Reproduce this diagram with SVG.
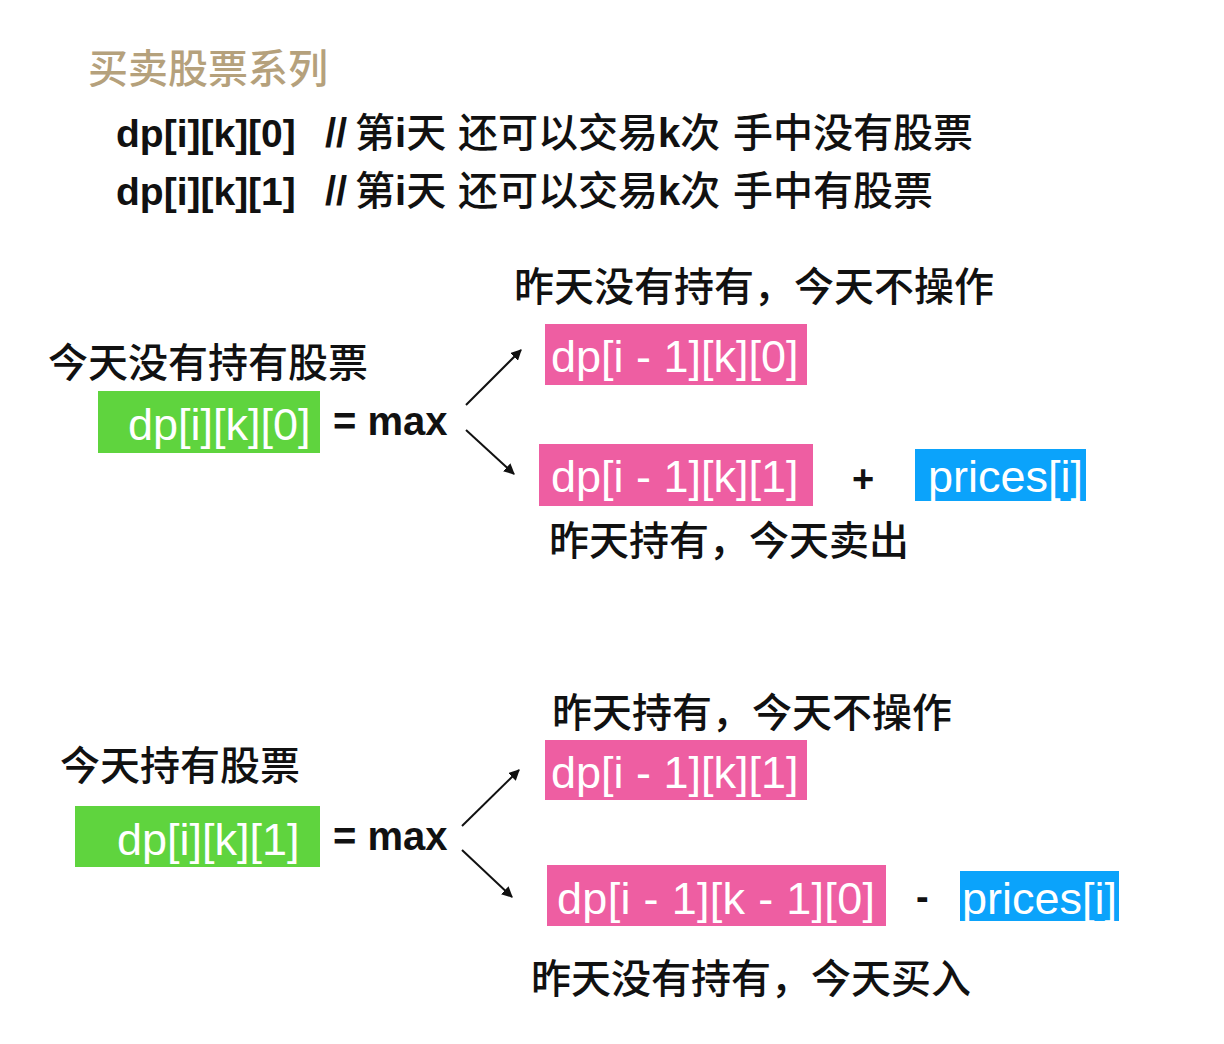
<svg xmlns="http://www.w3.org/2000/svg" width="1224" height="1044" viewBox="0 0 1224 1044">
<style>
.cjk{font-family:"Noto Sans CJK SC","Liberation Sans",sans-serif;fill:#111}
.hd{font-family:"Liberation Sans","Noto Sans CJK SC",sans-serif;font-size:40px;fill:#111}
.c{font-family:"Noto Sans CJK SC",sans-serif;font-weight:500}
.b{font-weight:bold}
.lbl{font-size:40px;font-weight:500}
.box{font-family:"Liberation Sans",sans-serif;font-size:45px;fill:#fff}
.op{font-family:"Liberation Sans",sans-serif;font-weight:bold;fill:#111}
.pink{fill:#ee5ea2}
.green{fill:#5fd43e}
.blue{fill:#0ba3fb}
.conn{stroke:#111;stroke-width:2;fill:none;marker-end:url(#ah)}
</style>
<defs>
<marker id="ah" viewBox="0 0 10 10" refX="9" refY="5" markerWidth="11" markerHeight="11" markerUnits="userSpaceOnUse" orient="auto">
<path d="M0,0 L10,5 L0,10 z" fill="#111"/>
</marker>
</defs>
<rect width="1224" height="1044" fill="#fff"/>

<g id="title">
<text x="88" y="83" class="cjk" style="fill:#b5a17c;font-size:40px;font-weight:500">买卖股票系列</text>
</g>
<g id="header">
<text y="147" class="hd"><tspan x="116" class="b" font-size="39">dp[i][k][0]</tspan><tspan x="325" class="b">//</tspan><tspan x="355" class="c">第</tspan><tspan class="b">i</tspan><tspan class="c">天</tspan><tspan x="458" class="c">还可以交易</tspan><tspan class="b">k</tspan><tspan class="c">次</tspan><tspan x="733" class="c">手中没有股票</tspan></text>
<text y="205" class="hd"><tspan x="116" class="b" font-size="39">dp[i][k][1]</tspan><tspan x="325" class="b">//</tspan><tspan x="355" class="c">第</tspan><tspan class="b">i</tspan><tspan class="c">天</tspan><tspan x="458" class="c">还可以交易</tspan><tspan class="b">k</tspan><tspan class="c">次</tspan><tspan x="733" class="c">手中有股票</tspan></text>
</g>

<g id="sec1-label"><text x="48" y="377" class="cjk lbl">今天没有持有股票</text></g>
<g id="sec1-lhs">
<rect x="98" y="391" width="222" height="62" class="green"/>
<text x="128" y="440" class="box">dp[i][k][0]</text>
<text x="333" y="435" class="op" font-size="40">= max</text>
</g>
<g id="sec1-opt1">
<text x="514" y="301" class="cjk lbl">昨天没有持有，今天不操作</text>
<rect x="545" y="324" width="262" height="61" class="pink"/>
<text x="551" y="372" class="box">dp[i - 1][k][0]</text>
</g>
<g id="sec1-opt2">
<rect x="539" y="444" width="274" height="62" class="pink"/>
<text x="551" y="492" class="box">dp[i - 1][k][1]</text>
<text x="852" y="492" class="op" font-size="38">+</text>
<rect x="915" y="449" width="171" height="52" class="blue"/>
<text x="928" y="492" class="box">prices[i]</text>
<text x="549" y="555" class="cjk lbl">昨天持有，今天卖出</text>
</g>

<g id="sec2-label"><text x="60" y="780" class="cjk lbl">今天持有股票</text></g>
<g id="sec2-lhs">
<rect x="75" y="806" width="245" height="61" class="green"/>
<text x="117" y="855" class="box">dp[i][k][1]</text>
<text x="333" y="850" class="op" font-size="40">= max</text>
</g>
<g id="sec2-opt1">
<text x="552" y="727" class="cjk lbl">昨天持有，今天不操作</text>
<rect x="545" y="740" width="262" height="60" class="pink"/>
<text x="551" y="788" class="box">dp[i - 1][k][1]</text>
</g>
<g id="sec2-opt2">
<rect x="547" y="865" width="339" height="61" class="pink"/>
<text x="557" y="914" class="box" font-size="46" textLength="318" lengthAdjust="spacing">dp[i - 1][k - 1][0]</text>
<text x="916" y="910" class="op" font-size="38">-</text>
<rect x="960" y="871" width="159" height="50" class="blue"/>
<text x="962" y="914" class="box">prices[i]</text>
<text x="531" y="993" class="cjk lbl">昨天没有持有，今天买入</text>
</g>

<g id="connectors">
<line x1="466" y1="405" x2="521" y2="350" class="conn"/>
<line x1="466" y1="430" x2="514" y2="474" class="conn"/>
<line x1="462" y1="826" x2="519" y2="770" class="conn"/>
<line x1="462" y1="850" x2="512" y2="897" class="conn"/>
</g>
</svg>
